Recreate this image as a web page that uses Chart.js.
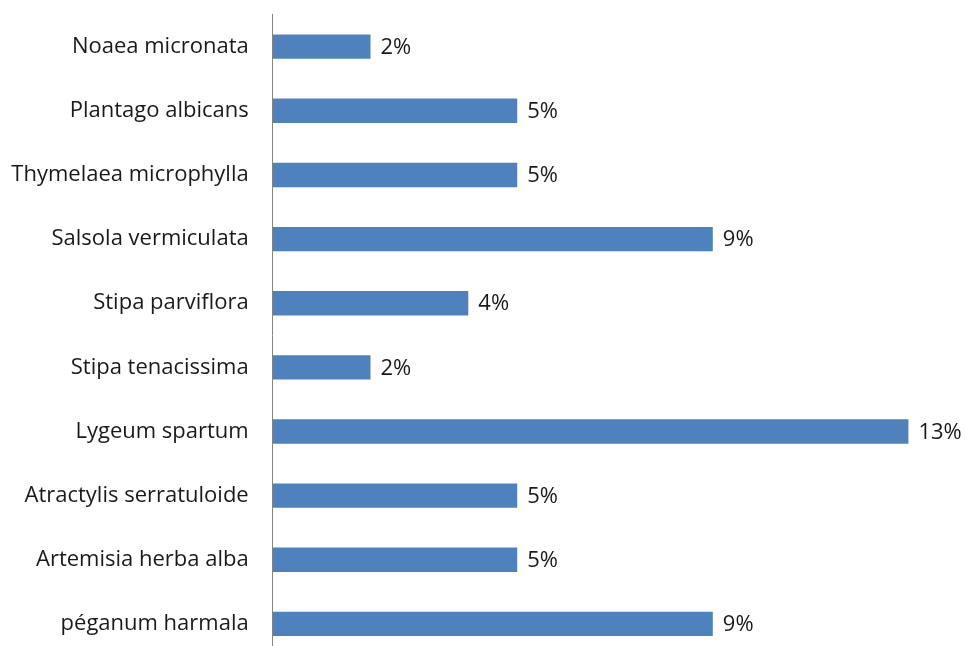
<!DOCTYPE html>
<html>
<head>
<meta charset="utf-8">
<script src="https://cdn.jsdelivr.net/npm/chart.js@4"></script>
<style>
  html, body { margin: 0; padding: 0; background: #fff; overflow: hidden; }
  #speciesChart { display: block; }
</style>
</head>
<body>
<canvas id="speciesChart" width="966" height="656"></canvas>
<script>
// Especes (du haut vers le bas)
var species = ['Noaea micronata', 'Plantago albicans', 'Thymelaea microphylla', 'Salsola vermiculata',
  'Stipa parviflora', 'Stipa tenacissima', 'Lygeum spartum', 'Atractylis serratuloide',
  'Artemisia herba alba', 'péganum harmala'];
var percents = [2, 5, 5, 9, 4, 2, 13, 5, 5, 9];
var xMax = 14;

// petites etiquettes de valeur au bout des barres
var valueLabels = {
  id: 'valueLabels',
  afterDatasetsDraw: function (chart) {
    var ctx = chart.ctx;
    var meta = chart.getDatasetMeta(0);
    ctx.save();
    ctx.font = '22px "Open Sans"';
    ctx.fillStyle = '#1a1a1a';
    ctx.textAlign = 'left';
    ctx.textBaseline = 'middle';
    meta.data.forEach(function (bar, i) {
      ctx.fillText(percents[i] + '%', bar.x + 10, bar.y + 1);
    });
    ctx.restore();
  }
};

var ctx = document.getElementById('speciesChart').getContext('2d');
var speciesChart = new Chart(ctx, {
  type: 'bar',
  data: {
    labels: species,
    datasets: [{
      data: percents,
      backgroundColor: '#4F81BD',
      borderWidth: 0,
      barPercentage: 0.38,
      categoryPercentage: 1
    }]
  },
  options: {
    indexAxis: 'y',
    responsive: false,
    animation: false,
    devicePixelRatio: 1,
    layout: { padding: { top: 14.6, right: 8.7, bottom: 0, left: 0 } },
    plugins: {
      legend: { display: false },
      tooltip: { enabled: false }
    },
    scales: {
      x: {
        display: false,
        min: 0,
        max: xMax
      },
      y: {
        grid: { display: false, drawTicks: false },
        border: { display: true, color: '#868686', width: 1 },
        ticks: {
          padding: 24,
          color: '#1a1a1a',
          font: { family: '"Open Sans"', size: 22 }
        },
        afterFit: function (scale) {
          scale.width = 272.7;
          scale.paddingTop = 0;
          scale.paddingBottom = 0;
        }
      }
    }
  },
  plugins: [valueLabels]
});
</script>
</body>
</html>
